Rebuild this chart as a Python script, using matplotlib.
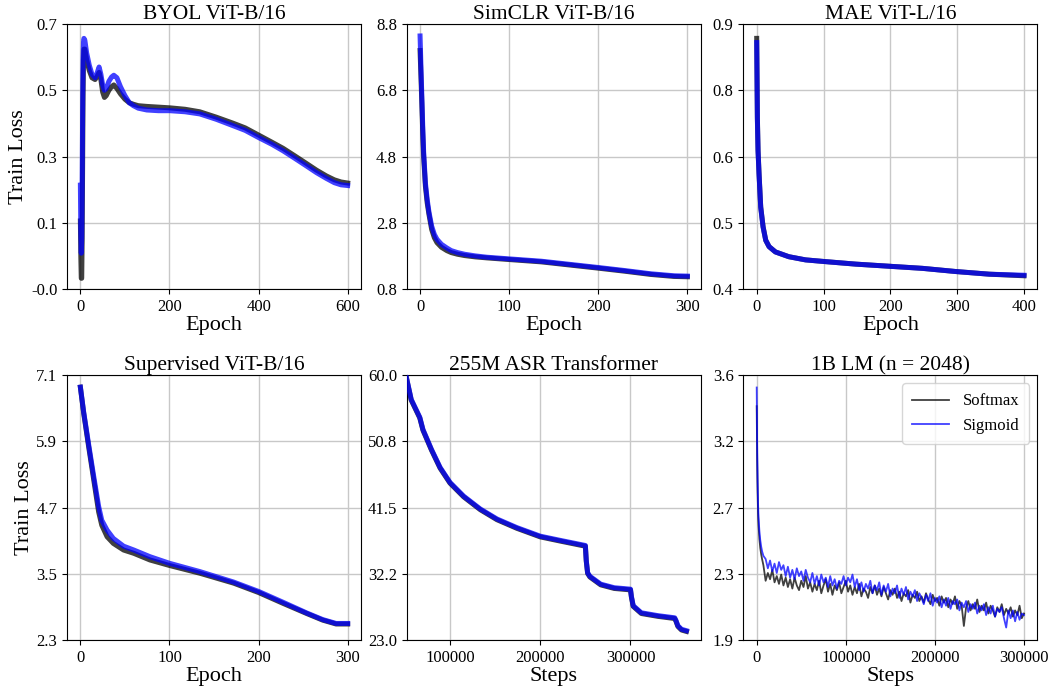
import numpy as np
import matplotlib.pyplot as plt

plt.rcParams['font.family'] = ['Liberation Serif', 'DejaVu Serif']

# ---- data ----
# BYOL ViT-B/16
byol_epoch = [0, 1, 2, 3, 4, 5, 6, 7, 8, 10, 14, 20, 26, 33, 38, 42, 46, 50, 54, 58, 64, 70, 75, 82,
              90, 100, 110, 119, 130, 149, 175, 201, 235, 268, 305, 343, 370, 400, 430, 455, 480, 507,
              530, 552, 570, 585, 600]
byol_softmax = [0.15, 0.05, -0.01, -0.01, 0.10, 0.30, 0.50, 0.60, 0.63, 0.63, 0.60, 0.57, 0.55, 0.545,
                0.555, 0.565, 0.545, 0.51, 0.495, 0.50, 0.515, 0.525, 0.53, 0.52, 0.505, 0.49, 0.48,
                0.476, 0.472, 0.470, 0.468, 0.466, 0.462, 0.455, 0.44, 0.423, 0.41, 0.39, 0.37, 0.353,
                0.333, 0.311, 0.292, 0.276, 0.265, 0.259, 0.256]
byol_sigmoid = [0.25, 0.12, 0.06, 0.10, 0.25, 0.45, 0.60, 0.65, 0.66, 0.655, 0.62, 0.585, 0.56, 0.55,
                0.565, 0.58, 0.56, 0.53, 0.515, 0.52, 0.54, 0.552, 0.557, 0.55, 0.525, 0.50, 0.48,
                0.472, 0.465, 0.460, 0.458, 0.458, 0.455, 0.449, 0.434, 0.416, 0.403, 0.383, 0.364,
                0.346, 0.326, 0.304, 0.285, 0.269, 0.257, 0.251, 0.249]

# SimCLR ViT-B/16
simclr_epoch = [0, 1, 2, 3, 4, 6, 8, 10, 13, 16, 19, 24, 30, 35, 42, 50, 62, 75, 100, 136, 173, 200,
                229, 259, 285, 300]
simclr_softmax = [8.0, 7.2, 6.4, 5.5, 4.8, 3.9, 3.4, 3.05, 2.6, 2.35, 2.2, 2.06, 1.96, 1.90, 1.85, 1.81,
                  1.77, 1.74, 1.69, 1.62, 1.51, 1.43, 1.34, 1.24, 1.18, 1.17]
simclr_sigmoid = [8.44, 7.5, 6.6, 5.7, 4.95, 4.0, 3.5, 3.12, 2.7, 2.45, 2.3, 2.15, 2.04, 1.96, 1.90, 1.85,
                  1.80, 1.76, 1.71, 1.64, 1.53, 1.45, 1.36, 1.26, 1.20, 1.19]

# MAE ViT-L/16
mae_epoch = [0, 1, 2, 3.5, 6, 9.5, 13.5, 18.5, 28, 48, 73, 100, 148, 198, 248, 298, 348, 400]
mae_softmax = [0.873, 0.725, 0.662, 0.618, 0.555, 0.518, 0.492, 0.48, 0.47, 0.461, 0.455, 0.452, 0.447,
               0.443, 0.439, 0.433, 0.428, 0.425]
mae_sigmoid = [0.865, 0.72, 0.66, 0.616, 0.554, 0.517, 0.492, 0.48, 0.47, 0.461, 0.455, 0.452, 0.447,
               0.443, 0.439, 0.433, 0.428, 0.426]

# Supervised ViT-B/16
sup_epoch = [0, 3.7, 9.3, 15, 20.5, 24, 30, 37, 48.5, 60, 78, 100, 134, 172, 200, 228, 254, 272, 287, 300]
sup_softmax = [6.88, 6.41, 5.8, 5.2, 4.62, 4.38, 4.17, 4.05, 3.93, 3.87, 3.75, 3.65, 3.51, 3.33, 3.16,
               2.96, 2.78, 2.66, 2.59, 2.59]
sup_sigmoid = [6.88, 6.43, 5.84, 5.26, 4.72, 4.47, 4.29, 4.14, 4.00, 3.93, 3.81, 3.69, 3.54, 3.35, 3.18,
               2.98, 2.79, 2.67, 2.60, 2.60]

# 255M ASR Transformer
asr_steps = [45000, 57000, 66500, 70000, 79500, 89000, 100000, 115000, 133500, 152000, 174000, 200000,
             222700, 250000, 251000, 252500, 255000, 267000, 282000, 300000, 301000, 303000, 312000,
             330500, 349000, 350500, 352500, 356500, 362000]
asr_softmax = [63.5, 56.5, 54.0, 52.3, 49.5, 47.0, 44.9, 43.0, 41.2, 39.8, 38.6, 37.4, 36.8, 36.1, 34.0,
               32.3, 31.8, 30.7, 30.2, 30.0, 29.0, 27.7, 26.7, 26.3, 26.0, 25.6, 24.9, 24.4, 24.2]
asr_sigmoid = [63.5, 56.6, 54.1, 52.4, 49.6, 47.1, 45.0, 43.1, 41.3, 39.9, 38.7, 37.5, 36.9, 36.2, 34.1,
               32.4, 31.9, 30.8, 30.3, 30.1, 29.1, 27.8, 26.8, 26.4, 26.1, 25.7, 25.0, 24.5, 24.3]

# 1B LM (n = 2048)
lm_steps = [0, 500, 1000, 1500, 2000, 3000, 4000, 5000, 6000, 7500] + list(np.arange(10000, 300001, 2500))
lm_softmax = [3.40, 3.05, 2.85, 2.72, 2.64, 2.55, 2.49, 2.45, 2.42, 2.38,
              2.28, 2.33, 2.29, 2.35, 2.27, 2.31, 2.26, 2.32, 2.25, 2.30,
              2.24, 2.29, 2.23, 2.30, 2.25, 2.22, 2.28, 2.24, 2.31, 2.23,
              2.27, 2.21, 2.26, 2.22, 2.28, 2.20, 2.25, 2.29, 2.21, 2.26,
              2.19, 2.25, 2.22, 2.27, 2.20, 2.24, 2.28, 2.21, 2.25, 2.19,
              2.24, 2.20, 2.26, 2.18, 2.23, 2.21, 2.17, 2.24, 2.20, 2.25,
              2.19, 2.23, 2.18, 2.24, 2.20, 2.16, 2.22, 2.19, 2.23, 2.17,
              2.21, 2.15, 2.20, 2.18, 2.22, 2.14, 2.19, 2.17, 2.21, 2.15,
              2.18, 2.14, 2.20, 2.16, 2.13, 2.19, 2.15, 2.17, 2.12, 2.18,
              2.14, 2.17, 2.11, 2.16, 2.13, 2.18, 2.10, 2.15, 2.12, 1.99,
              2.11, 2.15, 2.09, 2.13, 2.10, 2.16, 2.08, 2.12, 2.09, 2.14,
              2.07, 2.12, 2.09, 2.05, 2.11, 2.08, 2.13, 2.06, 2.10, 2.07,
              2.11, 2.05, 2.09, 2.06, 2.12, 2.04, 2.07]
lm_sigmoid = [3.52, 3.15, 2.93, 2.78, 2.69, 2.60, 2.54, 2.50, 2.47, 2.44,
              2.42, 2.36, 2.41, 2.34, 2.39, 2.33, 2.40, 2.35, 2.38, 2.31,
              2.37, 2.30, 2.35, 2.29, 2.36, 2.31, 2.34, 2.28, 2.35, 2.30,
              2.27, 2.33, 2.26, 2.31, 2.25, 2.32, 2.27, 2.30, 2.24, 2.31,
              2.25, 2.29, 2.23, 2.28, 2.26, 2.31, 2.25, 2.30, 2.27, 2.32,
              2.24, 2.29, 2.22, 2.27, 2.21, 2.26, 2.23, 2.28, 2.20, 2.25,
              2.22, 2.27, 2.19, 2.25, 2.21, 2.26, 2.18, 2.23, 2.20, 2.25,
              2.17, 2.23, 2.19, 2.24, 2.16, 2.21, 2.18, 2.22, 2.15, 2.20,
              2.17, 2.13, 2.19, 2.15, 2.20, 2.12, 2.17, 2.14, 2.18, 2.11,
              2.16, 2.12, 2.17, 2.10, 2.15, 2.13, 2.16, 2.09, 2.14, 2.11,
              2.15, 2.08, 2.13, 2.10, 2.14, 2.07, 2.12, 2.09, 2.13, 2.06,
              2.11, 2.07, 2.12, 2.05, 2.10, 2.08, 2.11, 2.04, 1.98, 2.09,
              2.04, 2.09, 2.02, 2.08, 2.03, 2.07, 2.06]

# y tick labels as printed in the figure (5 evenly spaced ticks)
byol_yticklabels = ['-0.0', '0.1', '0.3', '0.5', '0.7']
simclr_yticklabels = ['0.8', '2.8', '4.8', '6.8', '8.8']
mae_yticklabels = ['0.4', '0.5', '0.6', '0.8', '0.9']
sup_yticklabels = ['2.3', '3.5', '4.7', '5.9', '7.1']
asr_yticklabels = ['23.0', '32.2', '41.5', '50.8', '60.0']
lm_yticklabels = ['1.9', '2.3', '2.7', '3.2', '3.6']

panels = [
    ('BYOL ViT-B/16', byol_epoch, byol_softmax, byol_sigmoid, (-0.04, 0.7), byol_yticklabels, 'Epoch', None),
    ('SimCLR ViT-B/16', simclr_epoch, simclr_softmax, simclr_sigmoid, (0.8, 8.8), simclr_yticklabels, 'Epoch', None),
    ('MAE ViT-L/16', mae_epoch, mae_softmax, mae_sigmoid, (0.4, 0.9), mae_yticklabels, 'Epoch', None),
    ('Supervised ViT-B/16', sup_epoch, sup_softmax, sup_sigmoid, (2.3, 7.1), sup_yticklabels, 'Epoch', None),
    ('255M ASR Transformer', asr_steps, asr_softmax, asr_sigmoid, (23.0, 60.0), asr_yticklabels, 'Steps',
     [100000, 200000, 300000]),
    ('1B LM (n = 2048)', lm_steps, lm_softmax, lm_sigmoid, (1.9, 3.6), lm_yticklabels, 'Steps',
     [0, 100000, 200000, 300000]),
]

fig = plt.figure(figsize=(10.52, 6.87), dpi=100)
lefts = [0.0637, 0.3866, 0.7066]
bottoms = [0.5793, 0.0684]
w, h = 0.2795, 0.3857

for i, (title, x, y_soft, y_sig, ylim, ylabels, xlabel, xticks) in enumerate(panels):
    ax = fig.add_axes([lefts[i % 3], bottoms[i // 3], w, h])
    lw = 1.3 if i == 5 else 3.6
    ax.plot(x, y_soft, color='black', alpha=0.75, lw=lw, label='Softmax', zorder=3)
    ax.plot(x, y_sig, color='blue', alpha=0.75, lw=lw, label='Sigmoid', zorder=4)
    ax.set_ylim(*ylim)
    ax.set_yticks(np.linspace(ylim[0], ylim[1], 5))
    ax.set_yticklabels(ylabels)
    if xticks is not None:
        ax.set_xticks(xticks)
        ax.set_xticklabels([str(t) for t in xticks])
    if i == 4:
        ax.set_xlim(left=52000)
    ax.grid(True, color='#c8c8c8', lw=1.0)
    ax.set_axisbelow(True)
    ax.tick_params(labelsize=12)
    ax.set_title(title, fontsize=15.5, pad=3)
    ax.set_xlabel(xlabel, fontsize=16, labelpad=1)
    if i % 3 == 0:
        ax.set_ylabel('Train Loss', fontsize=16, labelpad=2)
    if i == 5:
        ax.legend(loc='upper right', fontsize=12, handlelength=2.2, borderpad=0.6)

plt.savefig('out.png', dpi=100)
